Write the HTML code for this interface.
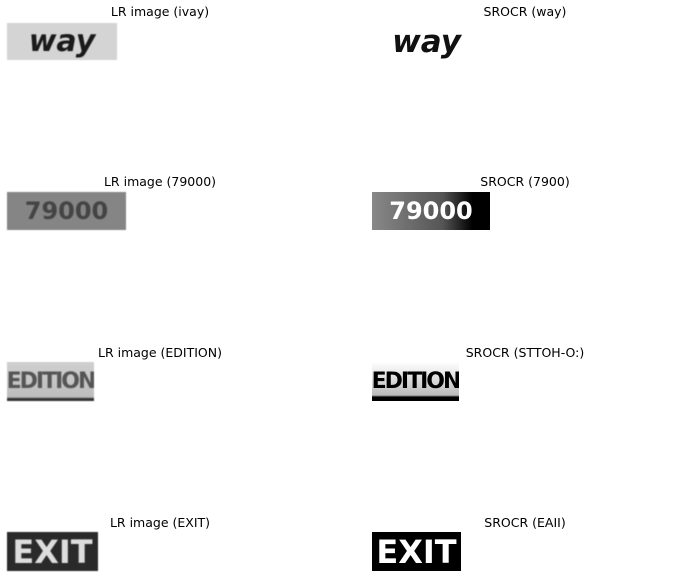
<!DOCTYPE html>
<html><head><meta charset="utf-8"><style>
body{margin:0;width:683px;height:578px;background:#fff;position:relative;overflow:hidden;font-family:"DejaVu Sans","Liberation Sans",sans-serif}
.t{position:absolute;font-size:12.5px;color:#000;white-space:nowrap;transform:translateX(-50%);line-height:14px}
.im{position:absolute;overflow:hidden;display:flex;align-items:center;justify-content:center;font-weight:bold;font-family:"DejaVu Sans",sans-serif;filter:blur(0.6px)}
.lr{color:#222}
.sr{color:#000;filter:none}
</style></head><body>
<div class="t" style="left:160px;top:5px">LR image (ivay)</div>
<div class="t" style="left:525px;top:5px">SROCR (way)</div>
<div class="im lr" style="left:7px;top:23px;width:110px;height:37px;background:#d4d4d4;font-size:30px;font-style:italic;color:#1a1a1a">way</div>
<div class="im sr" style="left:373px;top:24px;width:107px;height:36px;background:#fff;font-size:31px;font-style:italic;color:#111">way</div>

<div class="t" style="left:160px;top:175px">LR image (79000)</div>
<div class="t" style="left:525px;top:175px">SROCR (7900)</div>
<div class="im lr" style="left:7px;top:192px;width:119px;height:38px;background:#858585;font-size:24px;color:#444">79000</div>
<div class="im sr" style="left:372px;top:192px;width:118px;height:38px;background:linear-gradient(90deg,#888 0%,#555 60%,#000 85%);font-size:24px;color:#fff">79000</div>

<div class="t" style="left:160px;top:346px">LR image (EDITION)</div>
<div class="t" style="left:525px;top:346px">SROCR (STTOH-O:)</div>
<div class="im lr" style="left:7px;top:362px;width:87px;height:39px;background:linear-gradient(180deg,#cfcfcf 0%,#bdbdbd 90%,#333 94%);font-size:22px;color:#555;letter-spacing:-2px">EDITION</div>
<div class="im sr" style="left:372px;top:362px;width:87px;height:39px;background:linear-gradient(180deg,#fff 0%,#bbb 85%,#000 90%);font-size:22px;color:#000;letter-spacing:-2px">EDITION</div>

<div class="t" style="left:160px;top:516px">LR image (EXIT)</div>
<div class="t" style="left:525px;top:516px">SROCR (EAII)</div>
<div class="im lr" style="left:7px;top:532px;width:91px;height:39px;background:#2a2a2a;font-size:32px;color:#ddd">EXIT</div>
<div class="im sr" style="left:372px;top:532px;width:89px;height:39px;background:#000;font-size:32px;color:#fff">EXIT</div>
</body></html>
